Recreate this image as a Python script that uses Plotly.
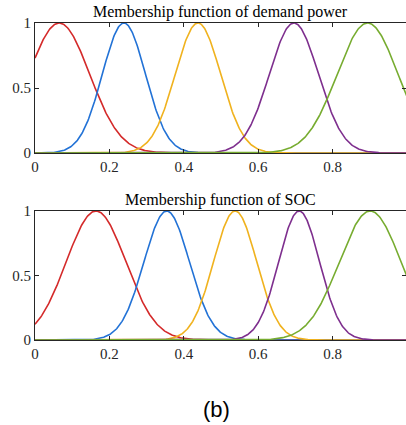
import numpy as np
import plotly.graph_objects as go

# Gaussian membership function parameters
demand_centers = [0.065, 0.239, 0.438, 0.696, 0.894]
demand_sigmas = [0.082, 0.058, 0.061, 0.066, 0.082]
soc_centers = [0.164, 0.354, 0.538, 0.710, 0.901]
soc_sigmas = [0.080, 0.061, 0.058, 0.055, 0.083]
colors = ["#d42a2a", "#2272d6", "#f0b21e", "#7e2f8e", "#77ac30"]
titles = ["Membership function of demand power", "Membership function of SOC"]
x_ticks = [0, 0.2, 0.4, 0.6, 0.8]
x_tick_labels = ["0", "0.2", "0.4", "0.6", "0.8"]
y_ticks = [0, 0.5, 1]
y_tick_labels = ["0", "0.5", "1"]

x = np.linspace(0, 1, 501)


def gaussmf(xv, c, s):
    return np.exp(-((xv - c) ** 2) / (2 * s ** 2))


fig = go.Figure()
for i, (c, s) in enumerate(zip(demand_centers, demand_sigmas)):
    fig.add_trace(go.Scatter(x=x, y=gaussmf(x, c, s), mode="lines",
                             line=dict(color=colors[i], width=1.6),
                             xaxis="x", yaxis="y", showlegend=False, hoverinfo="skip"))
for i, (c, s) in enumerate(zip(soc_centers, soc_sigmas)):
    fig.add_trace(go.Scatter(x=x, y=gaussmf(x, c, s), mode="lines",
                             line=dict(color=colors[i], width=1.6),
                             xaxis="x2", yaxis="y2", showlegend=False, hoverinfo="skip"))

W, H = 406, 425
ml, mr, mt, mb = 35, 0, 23, 85
ph = H - mt - mb
top_dom = [(340 - 153) / ph, 1.0]
bot_dom = [0.0, (340 - 211) / ph]

font_serif = "Liberation Serif"
axis_common = dict(showline=True, linecolor="#262626", linewidth=1, mirror="allticks",
                   ticks="inside", ticklen=4, tickcolor="#262626", showgrid=False,
                   zeroline=False, tickfont=dict(family=font_serif, size=15, color="#262626"))

xr = [0, (406 - 35) / 372]
fig.update_layout(
    width=W, height=H,
    margin=dict(l=ml, r=mr, t=mt, b=mb),
    paper_bgcolor="white", plot_bgcolor="white",
    font=dict(family=font_serif),
    xaxis=dict(domain=[0, 1], range=xr, anchor="y", tickvals=x_ticks, ticktext=x_tick_labels, **axis_common),
    yaxis=dict(domain=top_dom, range=[0, 1], anchor="x", tickvals=y_ticks, ticktext=y_tick_labels, **axis_common),
    xaxis2=dict(domain=[0, 1], range=xr, anchor="y2", tickvals=x_ticks, ticktext=x_tick_labels, **axis_common),
    yaxis2=dict(domain=bot_dom, range=[0, 1], anchor="x2", tickvals=y_ticks, ticktext=y_tick_labels, **axis_common),
    annotations=[
        dict(text=titles[0], x=0.5, y=top_dom[1], xref="paper", yref="paper",
             xanchor="center", yanchor="bottom", yshift=0, showarrow=False,
             font=dict(family=font_serif, size=16, color="black")),
        dict(text=titles[1], x=0.5, y=bot_dom[1], xref="paper", yref="paper",
             xanchor="center", yanchor="bottom", yshift=0, showarrow=False,
             font=dict(family=font_serif, size=16, color="black")),
        dict(text="(b)", x=(216 - ml) / (W - ml - mr), y=(340 - 409) / ph, xref="paper", yref="paper",
             xanchor="center", yanchor="middle", showarrow=False,
             font=dict(family="Liberation Sans", size=22, color="black")),
    ],
)

fig.write_html("out.html")
